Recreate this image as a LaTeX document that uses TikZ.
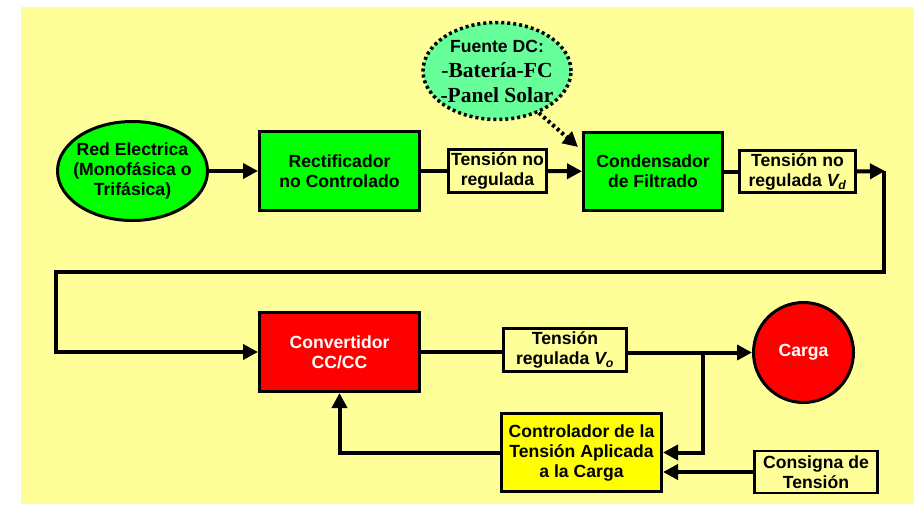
\documentclass[tikz,border=0pt]{standalone}
\usepackage{fontspec}
\setmainfont{Liberation Sans}
\newfontfamily\timesf{Liberation Serif}
\usetikzlibrary{arrows.meta,shapes.geometric}
\definecolor{bgyel}{RGB}{255,255,153}
\definecolor{lgreen}{RGB}{0,255,0}
\definecolor{mint}{RGB}{102,255,153}
\definecolor{bred}{RGB}{255,0,0}
\definecolor{cyel}{RGB}{255,255,0}
\tikzset{
  base/.style={draw=black, line width=3pt, align=center, inner sep=0pt,
    font=\fontsize{17.6}{20}\selectfont\bfseries},
  blockbox/.style={base, rectangle, minimum width=160pt, minimum height=79pt},
  labbox/.style={base, rectangle, fill=bgyel, line width=2.5pt},
  conn/.style={line width=4pt},
  arr/.style={conn, -{Triangle[length=15pt,width=15pt]}},
}
\begin{document}
\begin{tikzpicture}[x=1pt,y=-1pt]
\useasboundingbox (0,0) rectangle (917,504);
\fill[white] (0,0) rectangle (917,504);
\fill[bgyel] (21,7) rectangle (914,504);

\node[base, ellipse, fill=lgreen, inner xsep=-25pt, inner ysep=-5pt, minimum width=150pt, minimum height=99pt] (red) at (132.5,171)
  {Red Electrica\\(Monofásica o\\Trifásica)};
\node[blockbox, fill=lgreen] (rect) at (339.5,171) {Rectificador\\no Controlado};
\node[labbox, minimum width=98pt, minimum height=43pt] (t1) at (497.5,171) {Tensión no\\regulada};
\node[blockbox, fill=lgreen, minimum width=139pt, minimum height=78pt] (cond) at (653,171.5) {Condensador\\de Filtrado};
\node[labbox, minimum width=116pt, minimum height=42pt] (t2) at (797.5,171.5) {Tensión no\\regulada {\itshape V\textsubscript{d}}};
\node[base, ellipse, fill=mint, line width=3.5pt, dash pattern=on 3pt off 3pt, inner xsep=-25pt, inner ysep=-15pt,
  minimum width=148pt, minimum height=97pt,
  font=\fontsize{17.6}{25}\selectfont\bfseries] (fuente) at (497,71)
  {Fuente DC:\\{\timesf\fontsize{21.5}{25}\selectfont -Batería-FC}\\{\timesf\fontsize{21.5}{25}\selectfont -Panel Solar}};

\node[blockbox, fill=bred, text=white] (conv) at (339.5,352) {Convertidor\\CC/CC};
\node[labbox, minimum width=123pt, minimum height=43pt] (t3) at (565,350) {Tensión\\regulada {\itshape V\textsubscript{o}}};
\node[base, circle, fill=bred, text=white, minimum size=100pt] (carga) at (803.5,352.5) {Carga};
\node[blockbox, fill=cyel, minimum width=160pt, minimum height=78pt] (ctrl) at (581.5,452.5)
  {Controlador de la\\Tensión Aplicada\\a la Carga};
\node[labbox, minimum width=123pt, minimum height=42pt] (cons) at (816,472) {Consigna de\\Tensión};

\coordinate (c1) at (884,171);
\coordinate (c2) at (56,272);
\coordinate (j) at (703,352);
\coordinate (dtip) at (578,147);

\draw[arr] (red) -- (rect);
\draw[conn] (rect) -- (t1);
\draw[arr] (t1) -- (cond);
\draw[conn] (cond) -- (t2);
\draw[arr] (t2.east) -- ([xshift=1pt]c1);
\draw[arr, line join=miter] (c1) -- (c1 |- c2) -- (c2) -- (c2 |- conv.west) -- (conv.west);
\draw[conn] (conv.east) -- (conv.east -| t3.west);
\draw[arr] (t3.east |- carga.west) -- (carga.west);
\draw[arr, line join=miter] (j) -- (j |- ctrl.east) -- (ctrl.east);
\draw[arr] (cons.west) -- (cons.west -| ctrl.east);
\draw[arr, line join=miter] (ctrl.west) -| (conv.south);
\draw[line width=4pt, dash pattern=on 3pt off 3pt, -{Triangle[length=15pt,width=15pt]}] (fuente.-45) -- (dtip);
\end{tikzpicture}
\end{document}
